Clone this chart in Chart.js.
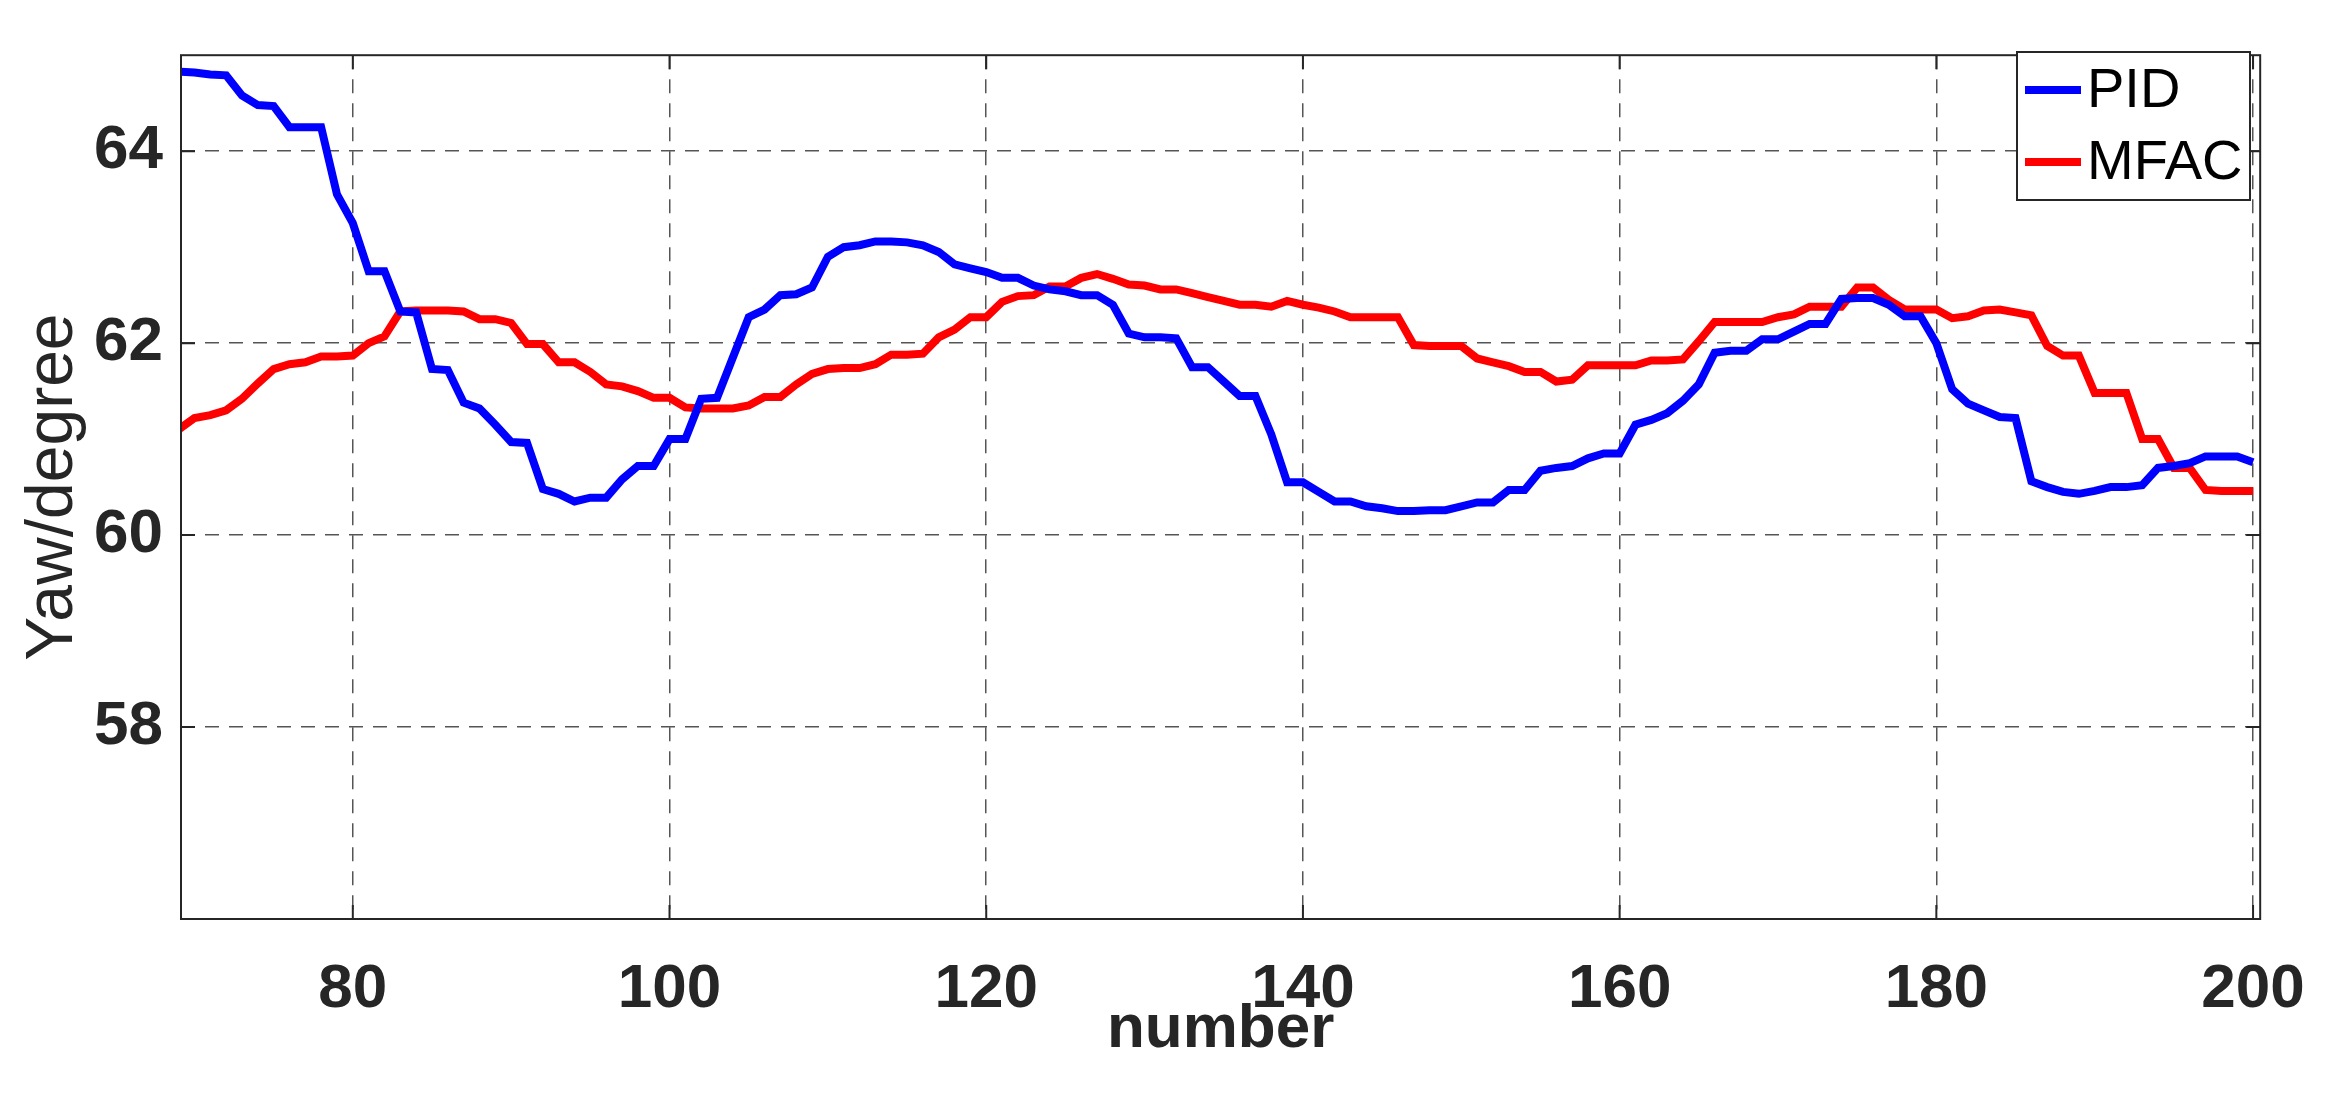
<!DOCTYPE html>
<html lang="en">
<head>
    <meta charset="UTF-8">
    <title>Yaw comparison</title>
    <style>
        html, body { margin: 0; padding: 0; background: #fff; }
        #wrap { width: 2339px; height: 1110px; }
    </style>
</head>
<body>
    <div id="wrap"><canvas id="chartCanvas" width="2339" height="1110"></canvas></div>
    <script src="https://cdn.jsdelivr.net/npm/chart.js"></script>
    <script>
        // sample index 69..200
        const startIndex = 69;
        const pidValues = [
            64.83, 64.82, 64.80, 64.79, 64.58, 64.48, 64.47, 64.25, 64.25, 64.25,
            63.55, 63.25, 62.75, 62.75, 62.33, 62.32, 61.73, 61.72, 61.38, 61.32,
            61.15, 60.97, 60.96, 60.48, 60.43, 60.35, 60.39, 60.39, 60.58, 60.72,
            60.72, 61.00, 61.00, 61.42, 61.43, 61.85, 62.27, 62.35, 62.50, 62.51,
            62.58, 62.90, 63.00, 63.02, 63.06, 63.06, 63.05, 63.02, 62.95, 62.82,
            62.78, 62.74, 62.68, 62.68, 62.60, 62.56, 62.54, 62.50, 62.50, 62.40,
            62.10, 62.06, 62.06, 62.05, 61.75, 61.75, 61.60, 61.45, 61.45, 61.05,
            60.55, 60.55, 60.45, 60.35, 60.35, 60.30, 60.28, 60.25, 60.25, 60.26,
            60.26, 60.30, 60.34, 60.34, 60.47, 60.47, 60.67, 60.70, 60.72, 60.80,
            60.85, 60.85, 61.15, 61.20, 61.27, 61.40, 61.57, 61.90, 61.92, 61.92,
            62.04, 62.04, 62.12, 62.20, 62.20, 62.46, 62.47, 62.47, 62.40, 62.28,
            62.28, 62.00, 61.52, 61.37, 61.30, 61.23, 61.22, 60.56, 60.50, 60.45,
            60.43, 60.46, 60.50, 60.50, 60.52, 60.70, 60.72, 60.75, 60.82, 60.82,
            60.82, 60.76
        ];
        const mfacValues = [
            61.10, 61.22, 61.25, 61.30, 61.42, 61.58, 61.73, 61.78, 61.80, 61.86,
            61.86, 61.87, 62.00, 62.07, 62.33, 62.34, 62.34, 62.34, 62.33, 62.25,
            62.25, 62.21, 61.99, 61.99, 61.80, 61.80, 61.70, 61.57, 61.55, 61.50,
            61.43, 61.43, 61.33, 61.32, 61.32, 61.32, 61.35, 61.44, 61.44, 61.57,
            61.68, 61.73, 61.74, 61.74, 61.78, 61.88, 61.88, 61.89, 62.06, 62.14,
            62.27, 62.27, 62.43, 62.49, 62.50, 62.59, 62.59, 62.68, 62.72, 62.67,
            62.61, 62.60, 62.56, 62.56, 62.52, 62.48, 62.44, 62.40, 62.40, 62.38,
            62.44, 62.40, 62.37, 62.33, 62.27, 62.27, 62.27, 62.27, 61.98, 61.97,
            61.97, 61.97, 61.84, 61.80, 61.76, 61.70, 61.70, 61.60, 61.62, 61.77,
            61.77, 61.77, 61.77, 61.82, 61.82, 61.83, 62.02, 62.22, 62.22, 62.22,
            62.22, 62.27, 62.30, 62.38, 62.38, 62.38, 62.58, 62.58, 62.45, 62.35,
            62.35, 62.35, 62.26, 62.28, 62.34, 62.35, 62.32, 62.29, 61.97, 61.87,
            61.87, 61.48, 61.48, 61.48, 61.00, 61.00, 60.70, 60.70, 60.47, 60.46,
            60.46, 60.46
        ];
        const xTicks = [80, 100, 120, 140, 160, 180, 200];
        const yTicks = [58, 60, 62, 64];
        const seriesNames = ['PID', 'MFAC'];
        const seriesColors = ['#0000ff', '#ff0000'];

        const toPoints = vals => vals.map((v, i) => ({ x: startIndex + i, y: v }));

        const frame = {
            id: 'frame',
            afterDraw(chart) {
                const { ctx, chartArea: a } = chart;
                ctx.save();
                ctx.strokeStyle = '#262626';
                ctx.lineWidth = 2;
                ctx.setLineDash([]);
                ctx.strokeRect(a.left, a.top, a.right - a.left, a.bottom - a.top);
                // inward tick marks
                const xs = chart.scales.x, ys = chart.scales.y;
                ctx.beginPath();
                xTicks.forEach(t => {
                    const px = xs.getPixelForValue(t);
                    ctx.moveTo(px, a.bottom); ctx.lineTo(px, a.bottom - 14);
                    ctx.moveTo(px, a.top); ctx.lineTo(px, a.top + 14);
                });
                yTicks.forEach(t => {
                    const py = ys.getPixelForValue(t);
                    ctx.moveTo(a.left, py); ctx.lineTo(a.left + 14, py);
                    ctx.moveTo(a.right, py); ctx.lineTo(a.right - 14, py);
                });
                ctx.stroke();

                // axis titles
                ctx.fillStyle = '#262626';
                ctx.textAlign = 'center';
                ctx.textBaseline = 'middle';
                ctx.font = 'bold 62px "Liberation Sans", Arial, sans-serif';
                ctx.fillText('number', (a.left + a.right) / 2, 1030);
                ctx.save();
                ctx.translate(54, (a.top + a.bottom) / 2);
                ctx.rotate(-Math.PI / 2);
                ctx.font = '66px "Liberation Sans", Arial, sans-serif';
                ctx.fillText('Yaw/degree', 0, 0);
                ctx.restore();

                // legend
                const lx = 2017, ly = 52, lw = 233, lh = 148;
                ctx.fillStyle = '#fff';
                ctx.fillRect(lx, ly, lw, lh);
                ctx.strokeStyle = '#262626';
                ctx.lineWidth = 2;
                ctx.strokeRect(lx, ly, lw, lh);
                ctx.font = '56px "Liberation Sans", Arial, sans-serif';
                ctx.textAlign = 'left';
                seriesNames.forEach((name, i) => {
                    const yy = ly + 38 + i * 72;
                    ctx.strokeStyle = seriesColors[i];
                    ctx.lineWidth = 8;
                    ctx.beginPath();
                    ctx.moveTo(lx + 8, yy); ctx.lineTo(lx + 64, yy);
                    ctx.stroke();
                    ctx.fillStyle = '#000';
                    ctx.fillText(name, lx + 70, yy + 2);
                });
                ctx.restore();
            }
        };

        const ctx = document.getElementById('chartCanvas').getContext('2d');
        new Chart(ctx, {
            type: 'line',
            data: {
                datasets: [
                    { label: seriesNames[0], data: toPoints(pidValues), borderColor: seriesColors[0], borderWidth: 8, pointRadius: 0, tension: 0 },
                    { label: seriesNames[1], data: toPoints(mfacValues), borderColor: seriesColors[1], borderWidth: 8, pointRadius: 0, tension: 0 }
                ]
            },
            options: {
                responsive: false,
                animation: false,
                layout: { padding: { top: 27, right: 65, left: 0, bottom: 0 } },
                plugins: { legend: { display: false }, tooltip: { enabled: false } },
                scales: {
                    x: {
                        type: 'linear', min: 69.15, max: 200.45,
                        afterBuildTicks: s => { s.ticks = xTicks.map(v => ({ value: v })); },
                        afterFit: s => { s.height = 191; },
                        grid: { color: '#555', lineWidth: 1.5, drawTicks: false },
                        border: { display: false, dash: [14, 10] },
                        ticks: { padding: 34, color: '#262626', font: { size: 62, weight: 'bold', family: '"Liberation Sans", Arial, sans-serif' } }
                    },
                    y: {
                        min: 56, max: 65,
                        afterBuildTicks: s => { s.ticks = yTicks.map(v => ({ value: v })); },
                        afterFit: s => { s.width = 181; },
                        grid: { color: '#555', lineWidth: 1.5, drawTicks: false },
                        border: { display: false, dash: [14, 10] },
                        ticks: { padding: 18, color: '#262626', font: { size: 62, weight: 'bold', family: '"Liberation Sans", Arial, sans-serif' } }
                    }
                }
            },
            plugins: [frame]
        });
    </script>
</body>
</html>
